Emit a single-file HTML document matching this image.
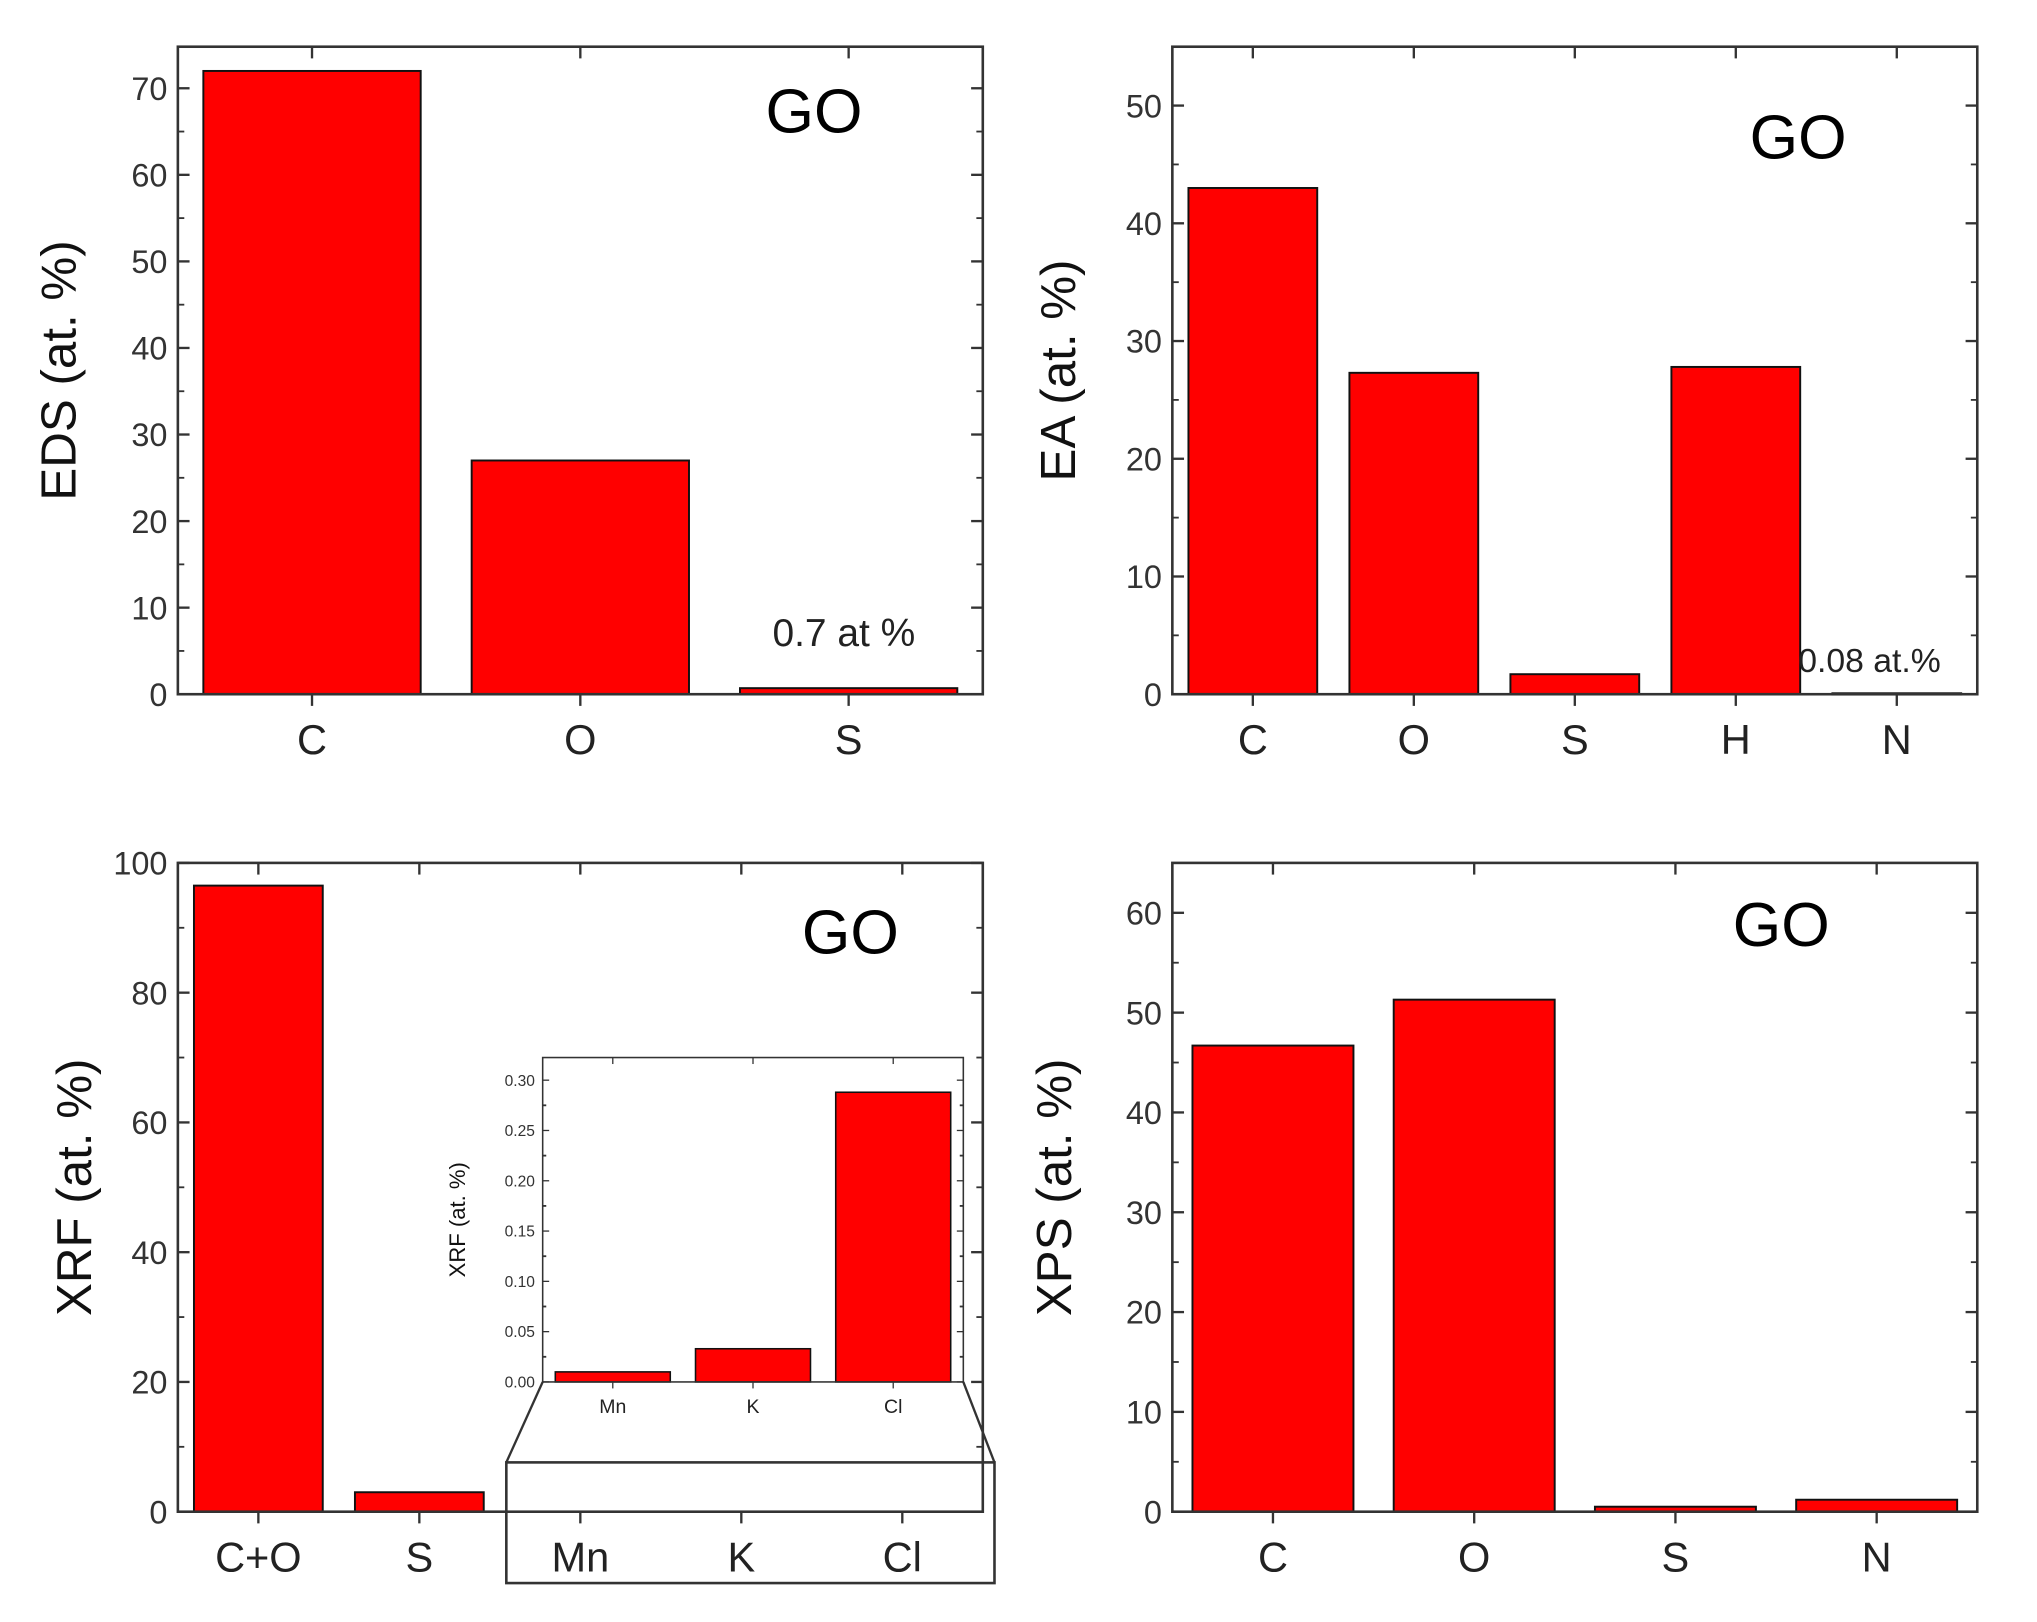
<!DOCTYPE html>
<html><head><meta charset="utf-8"><style>
html,body{margin:0;padding:0;background:#fff;}
svg{display:block;font-family:"Liberation Sans",Arial,sans-serif;}
</style></head><body>
<svg id="fig" width="2037" height="1622" viewBox="0 0 1569 1250" preserveAspectRatio="none" xmlns="http://www.w3.org/2000/svg"></svg>
<script>
const edsCats=["C","O","S"];
const edsVals=[72,27,0.7];
const edsTicks=[0,10,20,30,40,50,60,70];
const eaCats=["C","O","S","H","N"];
const eaVals=[43,27.3,1.7,27.8,0.08];
const eaTicks=[0,10,20,30,40,50];
const xrfCats=["C+O","S","Mn","K","Cl"];
const xrfVals=[96.5,3,0,0,0];
const xrfTicks=[0,20,40,60,80,100];
const insetCats=["Mn","K","Cl"];
const insetVals=[0.01,0.033,0.288];
const insetTicks=[0,0.05,0.10,0.15,0.20,0.25,0.30];
const xpsCats=["C","O","S","N"];
const xpsVals=[46.7,51.3,0.5,1.2];
const xpsTicks=[0,10,20,30,40,50,60];

const NS="http://www.w3.org/2000/svg";
const svg=document.getElementById('fig');
function el(tag,attrs,parent,text){const e=document.createElementNS(NS,tag);for(const k in attrs)e.setAttribute(k,attrs[k]);if(text!==undefined)e.textContent=text;(parent||svg).appendChild(e);return e;}

function panel(p){
  const g=el('g',{});
  
  
  const y=v=>p.y1-(v-p.ymin)/(p.ymax-p.ymin)*(p.y1-p.y0);
  const step=(p.x1-p.x0)/p.cats.length;
  const x=i=>p.x0+step*(i+0.5);
  const bw=step*p.bwFrac;
  p.vals.forEach((v,i)=>{
    if(v<=0&&!p.drawZero)return;
    const r=el('rect',{x:x(i)-bw/2,y:y(v),width:bw,height:Math.max(y(p.ymin)-y(v),1),fill:'#ff0000',stroke:'#111','stroke-width':p.sw||1.5},g);
    
    
  });
  const fr=el('rect',{x:p.x0,y:p.y0,width:p.x1-p.x0,height:p.y1-p.y0,fill:'none',stroke:'#333','stroke-width':p.sw?1.2:2},g);
  
  
  const tl=p.tl||9;
  p.ticks.forEach((t,k)=>{
    const yy=y(t);
    el('line',{x1:p.x0,y1:yy,x2:p.x0+tl,y2:yy,stroke:'#333','stroke-width':p.sw?1:1.8},g);
    el('line',{x1:p.x1,y1:yy,x2:p.x1-tl,y2:yy,stroke:'#333','stroke-width':p.sw?1:1.8},g);
    if(k<p.ticks.length-1){const ym=y((t+p.ticks[k+1])/2);
      el('line',{x1:p.x0,y1:ym,x2:p.x0+tl*0.55,y2:ym,stroke:'#333','stroke-width':1.4},g);
      el('line',{x1:p.x1,y1:ym,x2:p.x1-tl*0.55,y2:ym,stroke:'#333','stroke-width':1.4},g);}
    const lb=el('text',{x:p.x0-(p.sw?6:8),y:yy+p.tfs*0.36,'text-anchor':'end','font-size':p.tfs,fill:'#333'},g,p.fmt?p.fmt(t):String(t));
    
    
  });
  p.cats.forEach((c,i)=>{
    el('line',{x1:x(i),y1:p.y1,x2:x(i),y2:p.y1+tl,stroke:'#333','stroke-width':p.sw?1:1.8},g);
    el('line',{x1:x(i),y1:p.y0,x2:x(i),y2:p.y0+tl,stroke:'#333','stroke-width':p.sw?1:1.8},g);
    const lb=el('text',{x:x(i),y:p.y1+p.cfsOff,'text-anchor':'middle','font-size':p.cfs,fill:'#222'},g,c);
    
    
  });
  const yt=el('text',{x:p.ytx,y:(p.y0+p.y1)/2,'text-anchor':'middle','font-size':p.yfs,fill:'#111',transform:`rotate(-90 ${p.ytx} ${(p.y0+p.y1)/2})`},g,p.ytitle);
  
  
  if(p.go){const t=el('text',{x:p.go[0],y:p.go[1],'text-anchor':'middle','font-size':48,fill:'#000'},g,'GO');
    
    }
  if(p.note){const t=el('text',{x:p.note[0],y:p.note[1],'text-anchor':'middle','font-size':p.note[3],fill:'#222'},g,p.note[2]);
    
    }
  return g;
}

panel({name:'eds-panel',cats:edsCats,vals:edsVals,ticks:edsTicks,ymin:0,ymax:74.8,x0:137,x1:757,y0:36,y1:535,bwFrac:0.81,tfs:25,cfs:32,cfsOff:46,yfs:38,ytx:58,ytitle:'EDS (at. %)',go:[627,102],note:[650,498,'0.7 at %',30]});
panel({name:'ea-panel',cats:eaCats,vals:eaVals,ticks:eaTicks,ymin:0,ymax:55,x0:903,x1:1523,y0:36,y1:535,bwFrac:0.8,tfs:25,cfs:32,cfsOff:46,yfs:38,ytx:828,ytitle:'EA (at. %)',go:[1385,122],note:[1440,518,'0.08 at.%',26]});
panel({name:'xrf-panel',cats:xrfCats,vals:xrfVals,ticks:xrfTicks,ymin:0,ymax:100,x0:137,x1:757,y0:665,y1:1165,bwFrac:0.8,tfs:25,cfs:32,cfsOff:46,yfs:38,ytx:70,ytitle:'XRF (at. %)',go:[655,735]});
panel({name:'xps-panel',cats:xpsCats,vals:xpsVals,ticks:xpsTicks,ymin:0,ymax:65,x0:903,x1:1523,y0:665,y1:1165,bwFrac:0.8,tfs:25,cfs:32,cfsOff:46,yfs:38,ytx:825,ytitle:'XPS (at. %)',go:[1372,729]});
const bg=el('rect',{x:418,y:815,width:324,height:250,fill:'#fff'});


panel({name:'xrf-inset',cats:insetCats,vals:insetVals,ticks:insetTicks,ymin:0,ymax:0.3225,x0:418,x1:742,y0:815,y1:1065,bwFrac:0.82,tfs:12,cfs:15,cfsOff:24,yfs:17,ytx:358,ytitle:'XRF (at. %)',sw:1.2,tl:5,fmt:v=>v.toFixed(2)});
const zb=el('rect',{x:390,y:1127,width:376,height:93,fill:'none',stroke:'#333','stroke-width':2});


const c1=el('line',{x1:418,y1:1065,x2:390,y2:1127,stroke:'#333','stroke-width':1.8});


const c2=el('line',{x1:742,y1:1065,x2:766,y2:1127,stroke:'#333','stroke-width':1.8});


</script>
</body></html>
